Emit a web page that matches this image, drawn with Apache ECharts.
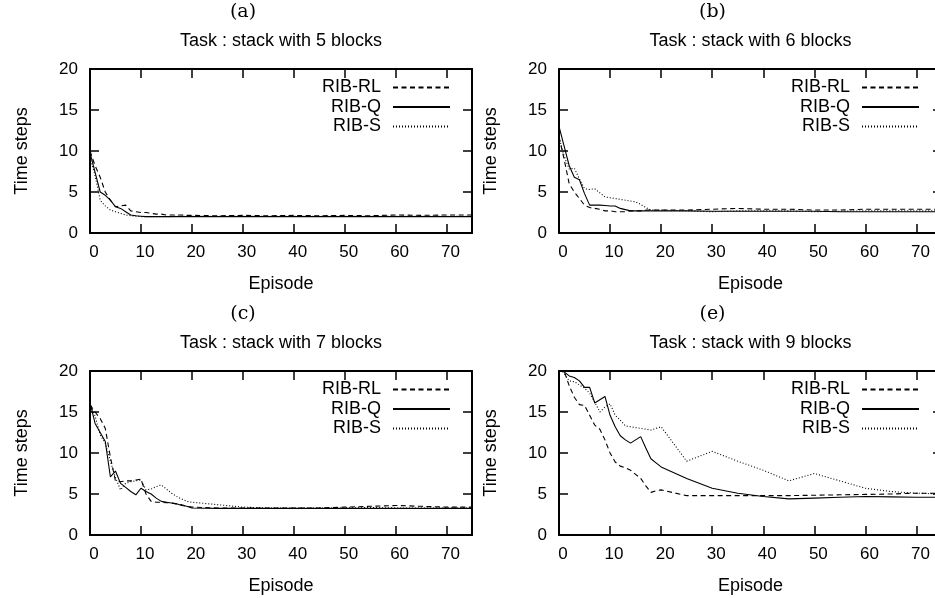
<!DOCTYPE html>
<html>
<head>
<meta charset="utf-8">
<script src="https://cdn.jsdelivr.net/npm/echarts@6/dist/echarts.min.js"></script>
<style>html,body{margin:0;padding:0;background:#fff;}#c{width:935px;height:598px;}</style>
</head>
<body>
<div id="c"></div>
<script>
// Episode positions (shared by all panels)
const episodes = [0,1,2,3,4,5,6,7,8,9,10,11,12,13,14,15,16,17,18,19,20,25,30,35,40,45,50,55,60,65,70,75];
const xTicks = [0,10,20,30,40,50,60,70];
const yTicks = [0,5,10,15,20];
const seriesNames = ['RIB-RL','RIB-Q','RIB-S'];

const panelLetters = ['(a)','(b)','(c)','(e)'];
const panelTitles = ['Task : stack with 5 blocks','Task : stack with 6 blocks','Task : stack with 7 blocks','Task : stack with 9 blocks'];

// (a) 5 blocks
const a_RL = [10,8.2,6.8,5.0,4.0,3.2,3.3,3.4,2.7,2.6,2.5,2.5,2.4,2.3,2.3,2.2,2.2,2.2,2.2,2.15,2.15,2.1,2.15,2.1,2.15,2.1,2.15,2.1,2.2,2.15,2.2,2.2];
const a_Q  = [9.8,7.4,5.0,4.6,4.0,3.2,3.0,2.6,2.2,2.1,2.05,2.0,2.0,2.0,2.0,2.0,2.0,2.0,2.0,2.0,2.0,2.0,2.0,2.0,2.0,2.0,2.0,2.0,2.0,2.0,2.0,2.0];
const a_S  = [9.2,7.0,4.0,3.3,2.8,2.6,2.4,2.2,2.1,2.05,2.0,2.0,2.0,2.0,2.0,2.0,2.0,2.05,2.05,2.05,2.05,2.05,2.05,2.05,2.05,2.05,2.05,2.05,2.05,2.05,2.05,2.05];
// (b) 6 blocks
const b_RL = [11.7,9.0,6.0,5.0,4.2,3.4,3.1,3.0,2.9,2.7,2.7,2.6,2.6,2.6,2.7,2.7,2.7,2.8,2.8,2.8,2.8,2.8,2.9,3.0,2.9,2.9,2.8,2.8,2.9,2.9,2.9,2.9];
const b_Q  = [13.0,10.6,8.2,6.8,6.5,4.8,3.4,3.4,3.4,3.35,3.3,3.3,3.0,2.85,2.7,2.7,2.7,2.7,2.7,2.7,2.7,2.7,2.65,2.65,2.65,2.65,2.65,2.6,2.6,2.6,2.6,2.6];
const b_S  = [11.7,9.4,7.8,7.9,6.6,5.4,5.3,5.4,4.9,4.4,4.3,4.2,4.1,4.0,3.9,3.8,3.5,3.1,2.8,2.8,2.8,2.7,2.6,2.7,2.7,2.7,2.6,2.65,2.7,2.7,2.7,2.7];
// (c) 7 blocks
const c_RL = [15.9,15.0,14.2,13.0,9.5,6.6,6.5,6.6,6.6,6.7,6.8,5.0,4.1,4.0,4.0,3.95,3.9,3.8,3.7,3.5,3.4,3.3,3.3,3.3,3.3,3.3,3.4,3.5,3.6,3.5,3.4,3.4];
const c_Q  = [16.1,13.6,12.5,11.4,7.1,7.8,6.3,5.8,5.3,4.9,5.7,5.3,5.0,4.5,4.1,4.0,3.9,3.8,3.6,3.5,3.3,3.25,3.25,3.25,3.25,3.25,3.25,3.25,3.25,3.25,3.25,3.25];
const c_S  = [16.0,14.5,12.2,11.2,9.0,7.0,5.5,6.3,6.5,6.6,6.7,5.5,5.6,5.9,6.1,5.6,5.1,4.7,4.4,4.1,4.0,3.7,3.4,3.3,3.3,3.3,3.3,3.35,3.3,3.3,3.3,3.3];
// (e) 9 blocks
const e_RL = [20.5,20.0,18.2,16.8,15.9,15.8,14.6,13.4,12.9,11.6,10.0,8.9,8.4,8.2,7.9,7.4,6.9,6.0,5.2,5.4,5.5,4.8,4.8,4.8,4.8,4.8,4.85,4.9,4.95,5.0,5.1,5.1];
const e_Q  = [20.5,19.9,19.4,19.2,18.8,18.0,18.0,16.1,16.5,16.9,14.6,13.2,12.1,11.6,11.2,11.6,12.0,10.6,9.3,8.8,8.3,6.9,5.7,5.1,4.7,4.4,4.5,4.6,4.7,4.65,4.6,4.6];
const e_S  = [20.5,19.7,18.8,18.7,18.3,17.9,17.3,16.2,15.0,15.6,16.0,14.6,14.0,13.3,13.2,13.1,13.0,12.9,12.8,13.0,13.2,9.0,10.2,9.0,7.9,6.6,7.5,6.6,5.7,5.3,5.1,5.0];

const panelData = [[a_RL,a_Q,a_S],[b_RL,b_Q,b_S],[c_RL,c_Q,c_S],[e_RL,e_Q,e_S]];

// layout
const grids = [
  {left:90, top:69, width:382, height:164},
  {left:559, top:69, width:383, height:164},
  {left:90, top:371, width:382, height:164},
  {left:559, top:371, width:383, height:164}
];
const lineTypes = [[5,3.5],'solid',[1,2]];
const FONT = '"Liberation Sans", Arial, Helvetica, sans-serif';

const option = {
  animation:false,
  backgroundColor:'#fff',
  grid: grids.map(g=>Object.assign({outerBoundsMode:'none', containLabel:false}, g)),
  title: [], legend: [], xAxis: [], yAxis: [], series: []
};

grids.forEach((g,p)=>{
  const cx = g.left + g.width/2;
  option.title.push({text:panelLetters[p], left:cx-38, top:g.top-66, textAlign:'center', padding:0,
    textStyle:{fontFamily:'"DejaVu Serif", "Liberation Serif", serif', fontSize:19, fontWeight:'normal', color:'#000'}});
  option.title.push({text:panelTitles[p], left:cx, top:g.top-37, textAlign:'center', padding:0,
    textStyle:{fontFamily:FONT, fontSize:18, fontWeight:'normal', color:'#000'}});
  option.legend.push({
    data:seriesNames, orient:'vertical', align:'right',
    right: 935 - (g.left + 361), top: g.top + 9.5, padding:0,
    itemWidth:57, itemHeight:14, itemGap:1.5, selectedMode:false,
    itemStyle:{opacity:0, borderWidth:0},
    textStyle:{fontFamily:FONT, fontSize:18, color:'#000', lineHeight:18, padding:[0,7,0,0]}
  });
  const axisCommon = {gridIndex:p, splitLine:{show:false},
    axisLine:{show:true, onZero:false, lineStyle:{color:'#000', width:2}},
    axisTick:{show:true, inside:true, length:9, lineStyle:{color:'#000', width:1.5}}};
  option.xAxis.push(Object.assign({}, axisCommon, {type:'value', position:'bottom', min:0, max:75, interval:10,
    name:'Episode', nameLocation:'middle', nameGap:42,
    nameTextStyle:{fontFamily:FONT, fontSize:18, color:'#000'},
    axisLabel:{show:true, margin:11, fontFamily:FONT, fontSize:17, color:'#000', padding:[0,0,0,8],
      formatter:v=> xTicks.indexOf(v)>=0 ? String(v) : ''}}));
  option.xAxis.push(Object.assign({}, axisCommon, {type:'value', position:'top', min:0, max:75, interval:10,
    axisLabel:{show:false}}));
  option.yAxis.push(Object.assign({}, axisCommon, {type:'value', position:'left', min:0, max:20, interval:5,
    name:'Time steps', nameLocation:'middle', nameGap:59, nameRotate:90,
    nameTextStyle:{fontFamily:FONT, fontSize:18, color:'#000'},
    axisLabel:{show:true, margin:12, fontFamily:FONT, fontSize:17, color:'#000',
      formatter:v=> yTicks.indexOf(v)>=0 ? String(v) : ''}}));
  option.yAxis.push(Object.assign({}, axisCommon, {type:'value', position:'right', min:0, max:20, interval:5,
    axisLabel:{show:false}}));
  panelData[p].forEach((vals,s)=>{
    option.series.push({
      type:'line', name:seriesNames[s], xAxisIndex:2*p, yAxisIndex:2*p,
      data: episodes.map((x,i)=>[x, vals[i]]),
      symbol:'none', showSymbol:false, clip:true,
      lineStyle:{color:'#000', width:1.1, type:lineTypes[s]},
      itemStyle:{color:'#000'}
    });
  });
});

const chart = echarts.init(document.getElementById('c'), null, {renderer:'canvas'});
chart.setOption(option);
</script>
</body>
</html>
